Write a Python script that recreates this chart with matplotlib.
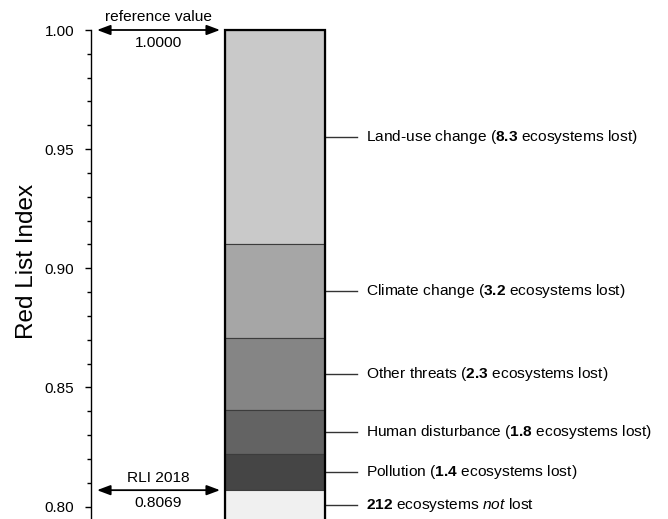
import matplotlib
matplotlib.use("Agg")
import matplotlib.pyplot as plt
from matplotlib.patches import Rectangle

plt.rcParams['font.family'] = ['Liberation Sans', 'DejaVu Sans']
plt.rcParams['mathtext.fontset'] = 'custom'
plt.rcParams['mathtext.rm'] = 'Liberation Sans'
plt.rcParams['mathtext.bf'] = 'Liberation Sans:bold'
plt.rcParams['mathtext.it'] = 'Liberation Sans:italic'

# Data
threats = ["Land-use change", "Climate change", "Other threats", "Human disturbance", "Pollution"]
rli_loss = [0.0897, 0.0395, 0.0303, 0.0186, 0.0150]
ecosystems_lost = [8.3, 3.2, 2.3, 1.8, 1.4]
ecosystems_not_lost = 212
reference_value = 1.0
rli_2018 = 0.8069
colors = ["#c9c9c9", "#a6a6a6", "#858585", "#636363", "#454545"]
not_lost_color = "#f0f0f0"

W, H = 668, 519
fig = plt.figure(figsize=(W / 100, H / 100), dpi=100)
ax_left = 91 / W
ax_top = 1 - 30 / H
ax = fig.add_axes([ax_left, 0, 1 - ax_left, ax_top])

ymin = 0.7948
ax.set_ylim(ymin, 1.0)
ax.set_xlim(0, 1)

bar_x = 0.3189
bar_w = 0.1733
label_line_x0 = 0.4055
label_line_x1 = 0.461
label_x = 0.4766
fs = 11.15

# stacked segments from top
top = reference_value
for name, loss, n, c in zip(threats, rli_loss, ecosystems_lost, colors):
    bottom = top - loss
    ax.bar(bar_x, loss, bottom=bottom, width=bar_w, color=c,
           edgecolor="#3c3c3c", linewidth=0.8, zorder=2)
    mid = (top + bottom) / 2
    ax.plot([label_line_x0, label_line_x1], [mid, mid], color="#333333", lw=1.0,
            clip_on=False, zorder=1)
    ax.text(label_x, mid, name + r" ($\mathbf{" + f"{n:.1f}" + r"}$ ecosystems lost)",
            va="center", ha="left", fontsize=fs)
    top = bottom

# not-lost segment
ax.bar(bar_x, top - (ymin - 0.01), bottom=ymin - 0.01, width=bar_w, color=not_lost_color,
       edgecolor="#3c3c3c", linewidth=0.8, zorder=2)
mid = (top + ymin) / 2
ax.plot([label_line_x0, label_line_x1], [mid, mid], color="#333333", lw=1.0,
        clip_on=False, zorder=1)
ax.text(label_x, mid, r"$\mathbf{" + str(ecosystems_not_lost) + r"}$ ecosystems $\mathit{not}$ lost",
        va="center", ha="left", fontsize=fs)

# outer frame of bar
ax.add_patch(Rectangle((bar_x - bar_w / 2, ymin - 0.01), bar_w, reference_value - ymin + 0.01,
                       fill=False, edgecolor="black", linewidth=1.6, zorder=3, clip_on=False))

# arrows
arr_x0, arr_x1 = 0.0104, 0.2236
txt_x = (arr_x0 + arr_x1) / 2
for yv, top_lbl in [(reference_value, "reference value"), (rli_2018, "RLI 2018")]:
    ax.annotate("", xy=(arr_x1, yv), xytext=(arr_x0, yv),
                arrowprops=dict(arrowstyle="<|-|>,head_length=0.8,head_width=0.3",
                                color="black", lw=1.3, shrinkA=0, shrinkB=0),
                annotation_clip=False)
    ax.annotate(top_lbl, xy=(txt_x, yv), xytext=(0, 4), textcoords="offset points",
                ha="center", va="bottom", fontsize=fs, annotation_clip=False)
    ax.annotate(f"{yv:.4f}", xy=(txt_x, yv), xytext=(0, -4), textcoords="offset points",
                ha="center", va="top", fontsize=fs, annotation_clip=False)

# axes styling
for s in ["top", "right", "bottom"]:
    ax.spines[s].set_visible(False)
ax.spines["left"].set_linewidth(1.0)
ax.set_xticks([])
ax.set_yticks([0.80, 0.85, 0.90, 0.95, 1.00])
ax.set_yticklabels(["0.80", "0.85", "0.90", "0.95", "1.00"])
ax.set_yticks([0.80 + 0.01 * i for i in range(21)], minor=True)
ax.tick_params(axis="y", which="major", length=4, width=1, labelsize=11, pad=8)
ax.tick_params(axis="y", which="minor", length=3, width=1)
ax.set_ylabel("Red List Index", fontsize=17.5)
ax.yaxis.set_label_coords(-0.0919, 0.527)

fig.savefig("out.png", dpi=100)
